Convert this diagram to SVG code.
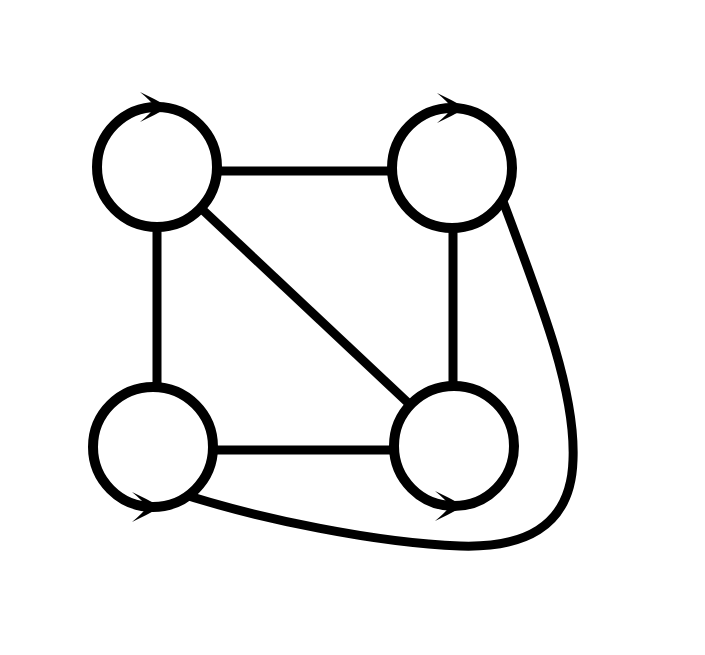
<svg xmlns="http://www.w3.org/2000/svg" width="705" height="655" viewBox="0 0 705 655">
<style>
.edge{fill:none;stroke:#000;stroke-width:9;stroke-linecap:butt}
.node{fill:#fff;stroke:#000;stroke-width:10}
.loop{fill:#000;stroke:none}
</style>
<defs>
<path id="ah" d="M 0 0 Q -14 -8 -29 -15 Q -18 -6 -14 0 Q -18 6 -29 15 Q -14 8 0 0 Z"/>
</defs>
<rect width="705" height="655" fill="#fff"/>
<g id="connectors">
<line class="edge" x1="157" y1="171" x2="452" y2="171"/>
<line class="edge" x1="157" y1="167" x2="157" y2="447"/>
<line class="edge" x1="453" y1="168" x2="453" y2="446"/>
<line class="edge" x1="153" y1="450" x2="454" y2="450"/>
<line class="edge" x1="157" y1="167" x2="454" y2="446"/>
<path class="edge" d="M 495 180 C 540 300, 576 390, 573 460 C 571 530, 520 548, 460 546 C 380 543, 260 520, 170 490"/>
</g>
<g id="n1">
<circle class="node" cx="157" cy="167" r="60"/>
<use href="#ah" class="loop" transform="translate(169 107)"/>
</g>
<g id="n2">
<circle class="node" cx="452" cy="168" r="60"/>
<use href="#ah" class="loop" transform="translate(466 108)"/>
</g>
<g id="n3">
<circle class="node" cx="153" cy="447" r="60"/>
<use href="#ah" class="loop" transform="translate(161 507)"/>
</g>
<g id="n4">
<circle class="node" cx="454" cy="446" r="60"/>
<use href="#ah" class="loop" transform="translate(464 506)"/>
</g>
</svg>
